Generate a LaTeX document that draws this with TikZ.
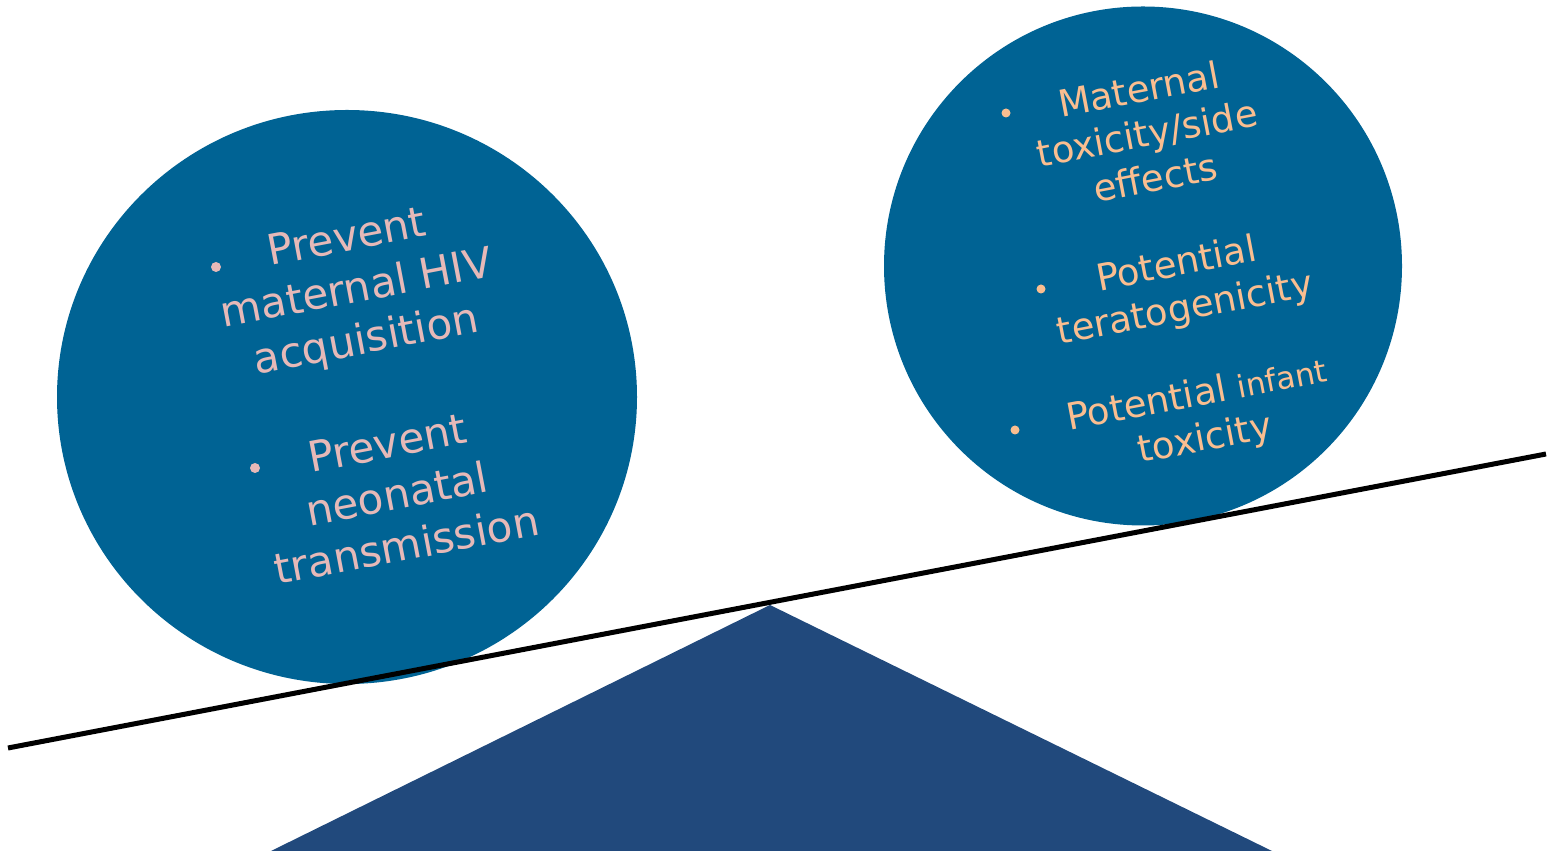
\documentclass[tikz,border=0pt]{standalone}
\usepackage{fontspec}
\setmainfont{DejaVu Sans}
\usetikzlibrary{shapes.geometric,positioning}
\definecolor{ballblue}{RGB}{0,99,148}
\definecolor{baseblue}{RGB}{33,73,124}
\definecolor{pinktxt}{RGB}{230,185,184}
\definecolor{peachtxt}{RGB}{250,190,144}
\tikzset{
  % ball style is used for the two weights resting on the beam
  ball/.style={ellipse, fill=ballblue, inner sep=0pt},
  lefttxt/.style={text=pinktxt, font=\fontsize{42}{52}\selectfont, align=center, rotate=10.8},
  righttxt/.style={text=peachtxt, font=\fontsize{37}{45}\selectfont, align=center, rotate=10.8},
  bulletdot/.style={circle, inner sep=0pt, minimum size=10pt}}

\begin{document}
\begin{tikzpicture}[x=1pt, y=1pt]
\useasboundingbox (0,0) rectangle (1548,851);

\fill [baseblue] (770,246) coordinate (apex) -- (1272,0) -- (271,0) -- cycle;

\node (lball) [ball, minimum width=580pt, minimum height=574pt] at (347,454) {};
\node (rball) [ball, minimum width=518pt, minimum height=519pt] at (1143,585) {};

\coordinate (beamL) at (8,103);
\coordinate (beamR) at (1546,397);
\draw [line width=5pt] (beamL) -- (beamR);

% benefits
\node (prev1) [lefttxt] at (357,560) {Prevent\\maternal HIV\\acquisition};
\node (prev2) [lefttxt] at (397,357) {Prevent\\neonatal\\transmission};
\node (b1) [bulletdot, fill=pinktxt] at (216,584) {};
\node (b2) [bulletdot, fill=pinktxt] at (255,383) {};

% risks
\node (mtox) [righttxt] at (1147,718) {Maternal\\toxicity/side\\effects};
\node (terat) [righttxt] at (1181,563) {Potential\\teratogenicity};
\node (itox) [righttxt] at (1201,433) {Potential {\fontsize{31}{45}\selectfont infant}\\toxicity};
\node (b3) [bulletdot, minimum size=9pt, fill=peachtxt] at (1006,738) {};
\node (b4) [bulletdot, minimum size=9pt, fill=peachtxt] at (1041,562) {};
\node (b5) [bulletdot, minimum size=9pt, fill=peachtxt] at (1015,421) {};

\end{tikzpicture}
\end{document}
